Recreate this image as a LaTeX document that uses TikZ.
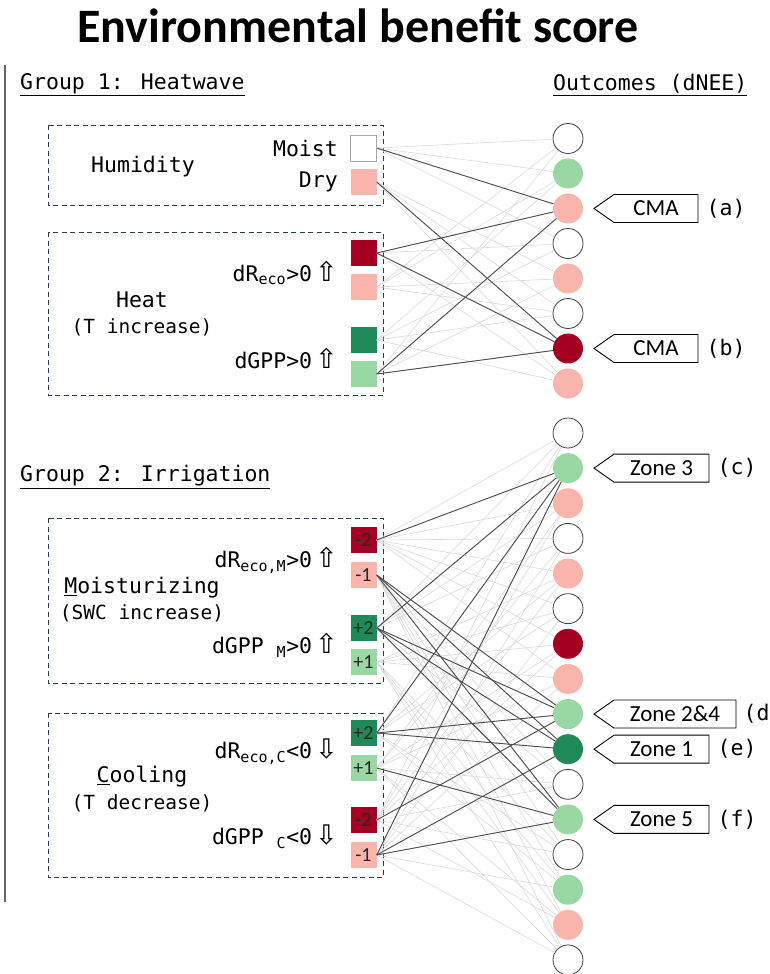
\documentclass[tikz,border=0pt]{standalone}
\usepackage{fontspec}
\setmainfont{Carlito}
\newfontfamily\mono{DejaVu Sans Mono}
\newfontfamily\arrowfont{DejaVu Sans}
\usetikzlibrary{positioning,shapes.symbols}

\definecolor{redD}{HTML}{A50021}
\definecolor{redL}{HTML}{F9B4AC}
\definecolor{grnD}{HTML}{1F8A57}
\definecolor{grnL}{HTML}{99D8A2}
\definecolor{boxline}{HTML}{2B3A5C}

\newcommand{\uparr}{\hspace{3pt}{\arrowfont\fontsize{27}{27}\selectfont ⇧}}
\newcommand{\dnarr}{\hspace{3pt}{\arrowfont\fontsize{27}{27}\selectfont ⇩}}

\begin{document}
\begin{tikzpicture}[x=1pt, y=-1pt,
  every node/.style={inner sep=0pt},
  txt/.style={font=\mono\fontsize{21.5}{24}\selectfont},
  note/.style={font=\mono\fontsize{19.5}{22}\selectfont},
  sq/.style={minimum size=26pt, font=\fontsize{20}{20}\selectfont, text=black!85},
  dot/.style={circle, minimum size=30pt},
  s0/.style={fill=white, draw=black!75, line width=0.8pt},
  sp1/.style={fill=grnL}, sp2/.style={fill=grnD},
  sn1/.style={fill=redL}, sn2/.style={fill=redD},
  grpbox/.style={draw=boxline, line width=1pt, dash pattern=on 5pt off 3.5pt},
  faint/.style={draw=gray!30, line width=0.6pt},
  hl/.style={draw=black!70, line width=0.9pt},
  zonetag/.style={signal, signal to=west, signal pointer angle=70, draw, line width=0.9pt,
    minimum height=28pt, font=\fontsize{23}{23}\selectfont}]
  \useasboundingbox (0,0) rectangle (770,974);

  \node[font=\bfseries\fontsize{48}{52}\selectfont] (title) at (358,26) {Environmental benefit score};
  \draw[black!60, line width=1.5pt] (5,65) -- (5,902);

  % headers
  \node[txt, anchor=west] (grp1) at (20,85) {\underline{Group 1: Heatwave}};
  \node[txt, anchor=west] (outc) at (553,85) {\underline{Outcomes (dNEE)}};
  \node[txt, anchor=west] (grp2) at (20,477) {\underline{Group 2: Irrigation}};

  % dashed groups
  \draw[grpbox] (48,125) rectangle (383,205);
  \draw[grpbox] (48,232) rectangle (383,395);
  \draw[grpbox] (48,518) rectangle (383,683);
  \draw[grpbox] (48,713) rectangle (383,877);

  % group 1 factors
  \node[sq, fill=white, draw=gray!70] (h0) at (363.5,148) {};
  \node[sq, fill=redL] (h1) at (363.5,182) {};
  \node[sq, fill=redD] (r1) at (363.5,253) {};
  \node[sq, fill=redL] (r0) at (363.5,287) {};
  \node[sq, fill=grnD] (g1) at (363.5,340) {};
  \node[sq, fill=grnL] (g0) at (363.5,374) {};

  \node[txt, anchor=east] (moist) at (338,148) {Moist};
  \node[txt, anchor=east] (dry) at (338,182) {Dry};
  \node[txt] (hum) at (143,167) {Humidity};
  \node[txt, anchor=east] (reco) at (338,273) {dR\textsubscript{eco}>0\uparr};
  \node[txt] (heat) at (142,300) {Heat};
  \node[note] (tinc) at (142,327) {(T increase)};
  \node[txt, anchor=east] (gpp) at (338,358) {dGPP>0\uparr};

  % group 2 factors
  \foreach \n/\y/\c/\t in {a0/540/redD/-2, a1/575/redL/-1, b0/628/grnD/+2, b1/662/grnL/+1,
      c0/733/grnD/+2, c1/768/grnL/+1, d0/820/redD/-2, d1/855/redL/-1}
    \node[sq, fill=\c] (\n) at (363.5,\y) {\t};

  \node[txt, anchor=east] (recom) at (338,560) {dR\textsubscript{eco,M}>0\uparr};
  \node[txt] (moi) at (142,588) {\underline{M}oisturizing};
  \node[note] (swc) at (142,613) {(SWC increase)};
  \node[txt, anchor=east] (gppm) at (338,645) {dGPP \textsubscript{M}>0\uparr};
  \node[txt, anchor=east] (recoc) at (338,752) {dR\textsubscript{eco,C}<0\dnarr};
  \node[txt] (cool) at (142,777) {\underline{C}ooling};
  \node[note] (tdec) at (142,803) {(T decrease)};
  \node[txt, anchor=east] (gppc) at (338,837) {dGPP \textsubscript{C}<0\dnarr};

  % outcomes
  \foreach \s [count=\i from 0] in {s0,sp1,sn1,s0,sn1,s0,sn2,sn1}
    \node[dot, \s] (o\i) at (568,{138.5+35*\i}) {};
  \foreach \s [count=\i from 0] in {s0,sp1,sn1,s0,sn1,s0,sn2,sn1,sp1,sp2,s0,sp1,s0,sp1,sn1,s0}
    \node[dot, \s] (q\i) at (568,{433+35.13*\i}) {};

  % links, group 1
  \foreach \st/\list in {faint/{0,...,7}, hl/{2,6}}
    \foreach \i in \list {
      \pgfmathtruncatemacro\ih{int(\i/4)}
      \pgfmathtruncatemacro\ir{mod(int(\i/2),2)}
      \pgfmathtruncatemacro\ig{mod(\i,2)}
      \draw[\st] (h\ih.east) -- (o\i) (r\ir.east) -- (o\i) (g\ig.east) -- (o\i);
    }
  % links, group 2
  \foreach \st/\list in {faint/{0,...,15}, hl/{1,8,9,11}}
    \foreach \i in \list {
      \pgfmathtruncatemacro\ia{int(\i/8)}
      \pgfmathtruncatemacro\ib{mod(int(\i/4),2)}
      \pgfmathtruncatemacro\ic{mod(int(\i/2),2)}
      \pgfmathtruncatemacro\id{mod(\i,2)}
      \draw[\st] (a\ia.east) -- (q\i) (b\ib.east) -- (q\i) (c\ic.east) -- (q\i) (d\id.east) -- (q\i);
    }

  % tags
  \node[zonetag, minimum width=104pt, anchor=west] (cmaA) at ([xshift=10pt]o2.east) {CMA};
  \node[txt, anchor=west] (la) at ([xshift=8pt]cmaA.east) {(a)};
  \node[zonetag, minimum width=104pt, anchor=west] (cmaB) at ([xshift=10pt]o6.east) {CMA};
  \node[txt, anchor=west] (lb) at ([xshift=8pt]cmaB.east) {(b)};
  \node[zonetag, minimum width=115pt, anchor=west] (zone3) at ([xshift=10pt]q1.east) {Zone 3};
  \node[txt, anchor=west] (lc) at ([xshift=8pt]zone3.east) {(c)};
  \node[zonetag, minimum width=142pt, anchor=west] (zone24) at ([xshift=10pt]q8.east) {Zone 2\&4};
  \node[txt, anchor=west] (ld) at ([xshift=7pt]zone24.east) {(d};
  \node[zonetag, minimum width=115pt, anchor=west] (zone1) at ([xshift=10pt]q9.east) {Zone 1};
  \node[txt, anchor=west] (le) at ([xshift=8pt]zone1.east) {(e)};
  \node[zonetag, minimum width=115pt, anchor=west] (zone5) at ([xshift=10pt]q11.east) {Zone 5};
  \node[txt, anchor=west] (lf) at ([xshift=8pt]zone5.east) {(f)};
\end{tikzpicture}
\end{document}
